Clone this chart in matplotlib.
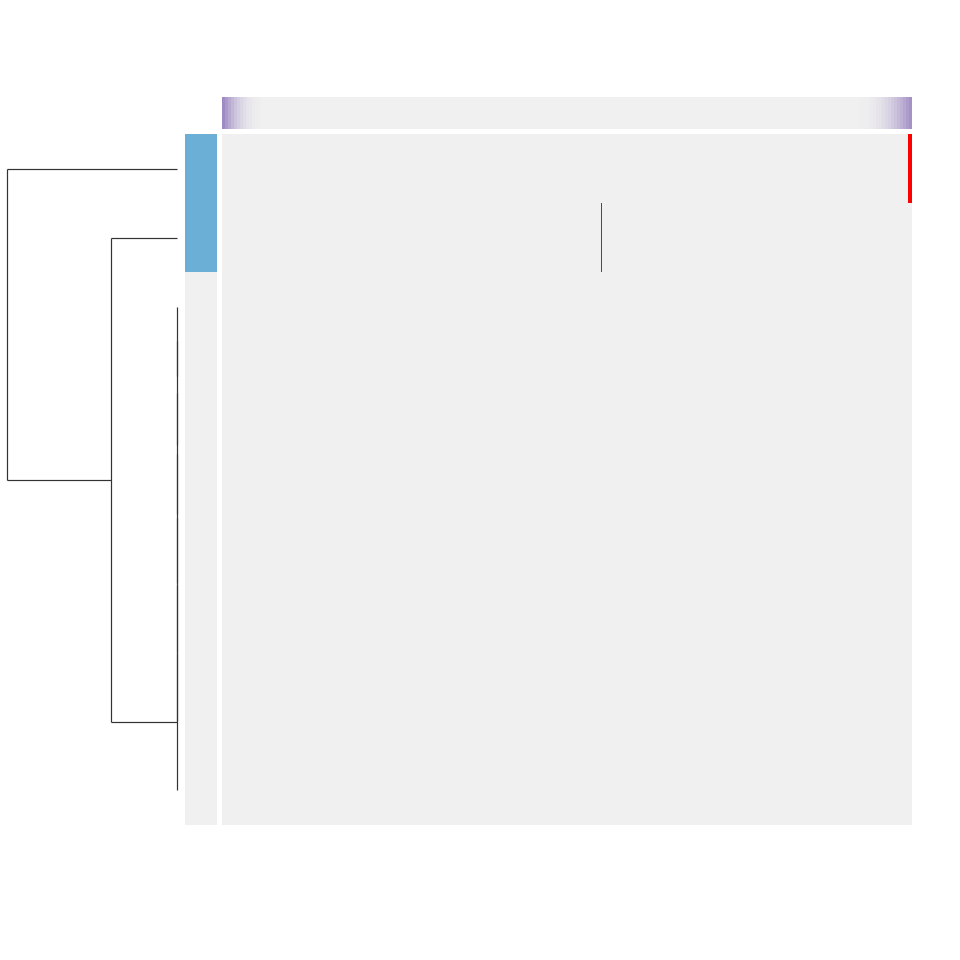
import numpy as np
import matplotlib
matplotlib.use('Agg')
import matplotlib.pyplot as plt
from matplotlib.colors import ListedColormap, LinearSegmentedColormap
from matplotlib.collections import LineCollection

# Données
n_rows = 10
n_cols = 690

# cellules non nulles du heatmap : (ligne, colonne)
hit_rows = [0, 0, 0, 0, 1]
hit_cols = [686, 687, 688, 689, 379]

# couleurs de lignes (groupe)
row_groups = [1, 1, 0, 0, 0, 0, 0, 0, 0, 0]

# couleurs de colonnes : intensité aux bords (blocs de 3 colonnes)
left_fade = [1.0, 0.85, 0.7, 0.56, 0.44, 0.34, 0.26, 0.19, 0.13, 0.09, 0.06, 0.04, 0.02]
right_fade = [0.92, 0.82, 0.72, 0.62, 0.53, 0.45, 0.38, 0.31, 0.25, 0.2,
              0.15, 0.11, 0.08, 0.06, 0.04, 0.03, 0.02, 0.01]
block = 3

# liaisons du dendrogramme (enfant1, enfant2, hauteur)
linkage = [
    (2, 3, 0.0), (10, 4, 0.0), (11, 5, 0.0), (12, 6, 0.0),
    (13, 7, 0.0), (14, 8, 0.0), (15, 9, 0.0),
    (1, 16, 0.386), (0, 17, 1.0),
]

grey = '#f0f0f0'

data = np.zeros((n_rows, n_cols))
data[hit_rows, hit_cols] = 1

col_vals = np.zeros(n_cols)
for i, v in enumerate(left_fade):
    col_vals[i * block:(i + 1) * block] = v
for i, v in enumerate(right_fade):
    col_vals[n_cols - (i + 1) * block:n_cols - i * block] = v

fig = plt.figure(figsize=(10, 10), dpi=96)
W = H = 960.0


def px_axes(x0, y0, x1, y1):
    return fig.add_axes([x0 / W, 1 - y1 / H, (x1 - x0) / W, (y1 - y0) / H])


# Heatmap principal
ax_hm = px_axes(222, 134, 912, 825)
ax_hm.pcolormesh(data, cmap=ListedColormap([grey, 'red']), vmin=0, vmax=1)
ax_hm.set_xlim(0, n_cols)
ax_hm.set_ylim(n_rows, 0)
ax_hm.axis('off')

# Couleurs de colonnes
ax_cc = px_axes(222, 97, 912, 129)
purp = LinearSegmentedColormap.from_list('purp', [grey, '#9f8bc3'])
ax_cc.pcolormesh(col_vals[np.newaxis, :], cmap=purp, vmin=0, vmax=1)
ax_cc.set_xlim(0, n_cols)
ax_cc.axis('off')

# Couleurs de lignes
ax_rc = px_axes(185, 134, 217, 825)
ax_rc.pcolormesh(np.array(row_groups)[:, np.newaxis],
                 cmap=ListedColormap([grey, '#6baed6']), vmin=0, vmax=1)
ax_rc.set_ylim(n_rows, 0)
ax_rc.axis('off')

# Dendrogramme des lignes
pos = {i: i + 0.5 for i in range(n_rows)}
height = {i: 0.0 for i in range(n_rows)}
segments = []
for k, (a, b, h) in enumerate(linkage):
    node = n_rows + k
    ya, yb = pos[a], pos[b]
    segments.append([(height[a], ya), (h, ya)])
    segments.append([(h, ya), (h, yb)])
    segments.append([(height[b], yb), (h, yb)])
    pos[node] = (ya + yb) / 2
    height[node] = h

ax_dg = px_axes(-2, 134, 177, 825)
lc = LineCollection(segments, colors='#333333', linewidths=0.9)
lc.set_clip_on(False)
ax_dg.add_collection(lc)
ax_dg.set_xlim(1.05, 0)
ax_dg.set_ylim(n_rows, 0)
ax_dg.axis('off')

plt.savefig('out.png', dpi=96)
plt.close()
